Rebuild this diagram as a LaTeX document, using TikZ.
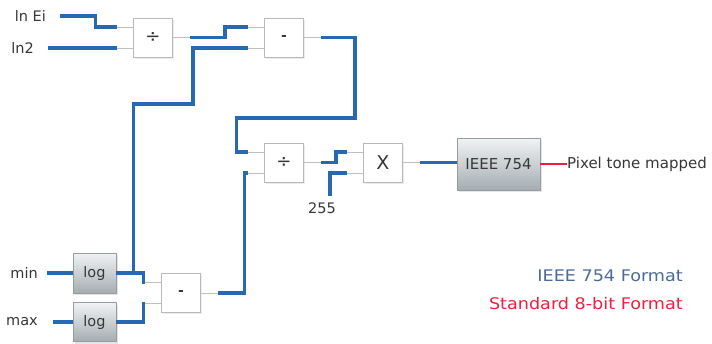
\documentclass[tikz,border=0pt]{standalone}
\usepackage{fontspec}
\setmainfont{DejaVu Sans}
\newfontfamily\legendfont[FakeStretch=1.1]{DejaVu Sans}
\usetikzlibrary{calc,shadows}
\definecolor{wireblue}{RGB}{38,104,178}
\definecolor{stubgray}{RGB}{192,192,192}
\definecolor{boxedge}{RGB}{185,185,185}
\definecolor{gredge}{RGB}{150,156,160}
\definecolor{gtop}{RGB}{240,243,244}
\definecolor{gbot}{RGB}{165,173,178}
\definecolor{redline}{RGB}{232,30,60}
\definecolor{legblue}{RGB}{74,108,150}
\definecolor{legred}{RGB}{236,32,64}
\definecolor{textgray}{RGB}{55,55,55}
\begin{document}
\begin{tikzpicture}[x=1pt,y=-1pt,
  wire/.style={draw=wireblue,line width=3.2pt},
  redwire/.style={draw=redline,line width=2.2pt},
  stub/.style={draw=stubgray,line width=1pt},
  opbox/.style={draw=boxedge,fill=white,line width=0.8pt,minimum width=39pt,minimum height=39pt,inner sep=0pt,text=textgray,
    drop shadow={shadow xshift=1.5pt,shadow yshift=-1.5pt,opacity=0.15}},
  grbox/.style={draw=gredge,top color=gtop,bottom color=gbot,line width=0.8pt,inner sep=0pt,text=textgray,
    drop shadow={shadow xshift=1.5pt,shadow yshift=-2pt,opacity=0.2}},
  lbl/.style={font=\fontsize{14.5}{16}\selectfont,text=textgray,inner sep=0pt},
  symdiv/.style={font=\fontsize{18}{18}\selectfont},
  symsub/.style={font=\fontsize{14}{14}\selectfont\bfseries},
]
\fill[white] (0,0) rectangle (712,343);
\useasboundingbox (0,0) rectangle (712,343);

% boxes
\node[opbox,symdiv] (div1) at (153,37.5) {÷};
\node[opbox,symsub] (sub1) at (284,37.5) {-};
\node[opbox,symdiv] (div2) at (284,162.5) {÷};
\node[opbox,font=\fontsize{19}{19}\selectfont] (mul) at (383,162.5) {X};
\node[grbox,minimum width=83pt,minimum height=52pt,font=\fontsize{15}{15}\selectfont] (ieee) at (498.5,164) {IEEE 754};
\node[grbox,minimum width=43pt,minimum height=40pt,font=\fontsize{14.5}{14.5}\selectfont] (log1) at (94.5,273) {log};
\node[grbox,minimum width=43pt,minimum height=39pt,font=\fontsize{14.5}{14.5}\selectfont] (log2) at (94.5,322) {log};
\node[opbox,symsub] (sub2) at (181,293) {-};

% labels
\node[lbl,anchor=east] (lnEi) at (46,16) {ln Ei};
\node[lbl,anchor=east] (ln2) at (34,48) {ln2};
\node[lbl,anchor=east] (min) at (38,273) {min};
\node[lbl,anchor=east] (max) at (38,322) {max};
\node[lbl] (c255) at (322,208) {255};
\node[lbl,anchor=base west,font=\fontsize{15}{16}\selectfont] (pix) at (567,168) {Pixel tone mapped};
\node[anchor=base east,inner sep=0pt,text=legblue,font=\legendfont\fontsize{16}{16}\selectfont] (leg1) at (683,281) {IEEE 754 Format};
\node[anchor=base east,inner sep=0pt,text=legred,font=\legendfont\fontsize{16}{16}\selectfont] (leg2) at (683,309) {Standard 8-bit Format};

% ports
\coordinate (div1a) at ($(div1.west)+(0,-10.5)$);
\coordinate (div1b) at ($(div1.west)+(0,10.5)$);
\coordinate (div1o) at (div1.east);
\coordinate (sub1a) at ($(sub1.west)+(0,-10.5)$);
\coordinate (sub1b) at ($(sub1.west)+(0,10.5)$);
\coordinate (sub1o) at (sub1.east);
\coordinate (div2a) at ($(div2.west)+(0,-10.5)$);
\coordinate (div2b) at ($(div2.west)+(0,10.5)$);
\coordinate (div2o) at (div2.east);
\coordinate (mula) at ($(mul.west)+(0,-10.5)$);
\coordinate (mulb) at ($(mul.west)+(0,10.5)$);
\coordinate (mulo) at (mul.east);
\coordinate (sub2a) at ($(sub2.west)+(0,-10.5)$);
\coordinate (sub2b) at ($(sub2.west)+(0,10.5)$);
\coordinate (sub2o) at (sub2.east);

% gray stubs
\foreach \p in {div1a,div1b,sub1a,sub1b,div2a,div2b,mula,mulb,sub2a,sub2b}
  \draw[stub] (\p) -- ++(-16,0);
\foreach \p in {div1o,sub1o,div2o,mulo,sub2o}
  \draw[stub] (\p) -- ++(17,0);

% wires
\draw[wire] ([xshift=14pt]lnEi.east) -| ($(div1a)+(-38,0)$) -- ($(div1a)+(-16,0)$);
\draw[wire] ([xshift=14pt]ln2.east) -- ($(div1b)+(-16,0)$);
\draw[wire] ($(div1o)+(17,0)$) -- ($(div1o)+(52,0)$) |- ($(sub1a)+(-16,0)$);
\coordinate (j1) at ($(log1.east)+(17,0)$);
\draw[wire] ([xshift=9pt]min.east) -- (log1.west);
\draw[wire] ([xshift=15pt]max.east) -- (log2.west);
\draw[wire] (log1.east) -| ($(sub2a)+(-18,0)$) -- ($(sub2a)+(-16,0)$);
\draw[wire] (j1) |- (193,104) |- ($(sub1b)+(-16,0)$);
\draw[wire] (log2.east) -| ($(sub2b)+(-18,0)$) -- ($(sub2b)+(-16,0)$);
\draw[wire] ($(sub2o)+(17,0)$) -| ($(div2b)+(-20,0)$) -- ($(div2b)+(-16,0)$);
\draw[wire] ($(sub1o)+(17,0)$) -| (355,118) -| ($(div2a)+(-28,0)$) -- ($(div2a)+(-16,0)$);
\draw[wire] ($(div2o)+(17,0)$) -- ($(div2o)+(32,0)$) |- ($(mula)+(-16,0)$);
\draw[wire] ([xshift=8pt,yshift=6pt]c255.north) |- ($(mulb)+(-16,0)$);
\draw[wire] ($(mulo)+(17,0)$) -- (ieee.west |- mulo);
\draw[redwire] (ieee.east) -- (pix.west |- ieee.east);
\end{tikzpicture}
\end{document}
